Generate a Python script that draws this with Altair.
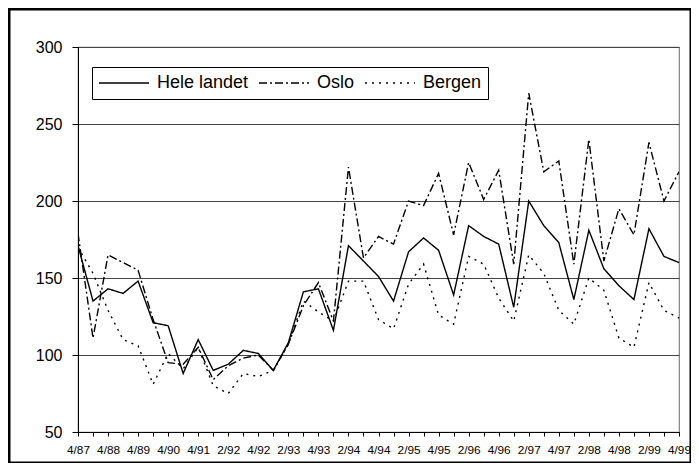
import json
import altair as alt
import pandas as pd

periods = ["4/87", "2/88", "4/88", "2/89", "4/89", "2/90", "4/90", "2/91", "4/91",
           "1/92", "2/92", "3/92", "4/92", "1/93", "2/93", "3/93", "4/93",
           "1/94", "2/94", "3/94", "4/94", "1/95", "2/95", "3/95", "4/95",
           "1/96", "2/96", "3/96", "4/96", "1/97", "2/97", "3/97", "4/97",
           "1/98", "2/98", "3/98", "4/98", "1/99", "2/99", "3/99", "4/99"]

hele_landet = [171, 135, 143, 140, 148, 121, 119, 88, 110, 90, 94, 103, 101, 90, 108,
               141, 143, 116, 171, 161, 151, 135, 167, 176, 168, 139, 184, 177, 172,
               131, 200, 184, 173, 136, 181, 156, 145, 136, 182, 164, 160]
oslo = [179, 111, 165, 160, 155, 123, 95, 94, 105, 84, 93, 98, 100, 90, 107,
        132, 147, 122, 222, 163, 177, 172, 200, 197, 218, 178, 225, 201, 220,
        159, 270, 219, 226, 159, 240, 161, 195, 178, 238, 200, 219]
bergen = [170, 153, 129, 110, 106, 81, 101, 91, 105, 80, 75, 88, 86, 90, 107,
          135, 128, 122, 148, 148, 123, 117, 146, 159, 126, 120, 164, 159, 137,
          122, 165, 153, 129, 120, 150, 142, 111, 105, 147, 129, 124]

series_names = ["Hele landet", "Oslo", "Bergen"]
series_values = [hele_landet, oslo, bergen]

rows = []
for name, vals in zip(series_names, series_values):
    for i, v in enumerate(vals):
        rows.append({"idx": i, "period": periods[i], "serie": name, "verdi": v})
df = pd.DataFrame(rows)

FONT = "Liberation Sans"
last = len(periods) - 1
label_expr = "datum.value % 2 == 0 ? " + json.dumps(periods) + "[datum.value] : ''"

lines = alt.Chart(df).mark_line(color="black", strokeWidth=1.4, clip=True).encode(
    x=alt.X("idx:Q",
            scale=alt.Scale(domain=[0, last], nice=False, zero=False),
            axis=alt.Axis(values=list(range(len(periods))), labelExpr=label_expr,
                          title=None, grid=False, labelFontSize=11.8, labelFont=FONT,
                          labelColor="black", labelOverlap=False, labelFlush=False,
                          tickSize=4, tickColor="black", domainColor="black",
                          labelPadding=8, labelAngle=0)),
    y=alt.Y("verdi:Q",
            scale=alt.Scale(domain=[50, 300], nice=False, zero=False),
            axis=alt.Axis(values=[50, 100, 150, 200, 250, 300], title=None,
                          grid=True, gridColor="#444444", gridWidth=1,
                          labelFontSize=16, labelFont=FONT, labelColor="black",
                          tickSize=6, tickColor="black", domainColor="black",
                          labelPadding=10)),
    strokeDash=alt.StrokeDash(
        "serie:N",
        scale=alt.Scale(domain=series_names, range=[[1, 0], [8, 3, 2, 3], [2, 5]]),
        legend=alt.Legend(title=None, orient="none", legendX=14, legendY=20,
                          direction="horizontal", symbolType="stroke",
                          symbolSize=2500, symbolStrokeColor="black",
                          symbolStrokeWidth=1.4, clipHeight=20,
                          labelFont=FONT, labelFontSize=18, labelColor="black",
                          labelOffset=7, columnPadding=9, padding=6,
                          strokeColor="black", fillColor="white"),
    ),
    detail="serie:N",
)

frame = alt.Chart(alt.Data(values=[{"a": 1}])).mark_rect(
    filled=False, stroke="black", strokeWidth=3, clip=False
).encode(
    x=alt.value(-69), x2=alt.value(613), y=alt.value(-38), y2=alt.value(416)
)

chart = alt.layer(lines, frame).properties(
    width=601, height=385,
    autosize=alt.AutoSizeParams(type="none"),
    padding={"left": 70, "top": 39, "right": 12, "bottom": 31},
    background="white",
).configure_view(stroke="#808080", strokeWidth=1.2)

chart.save("out.html", embed_options={"renderer": "svg", "actions": False})
